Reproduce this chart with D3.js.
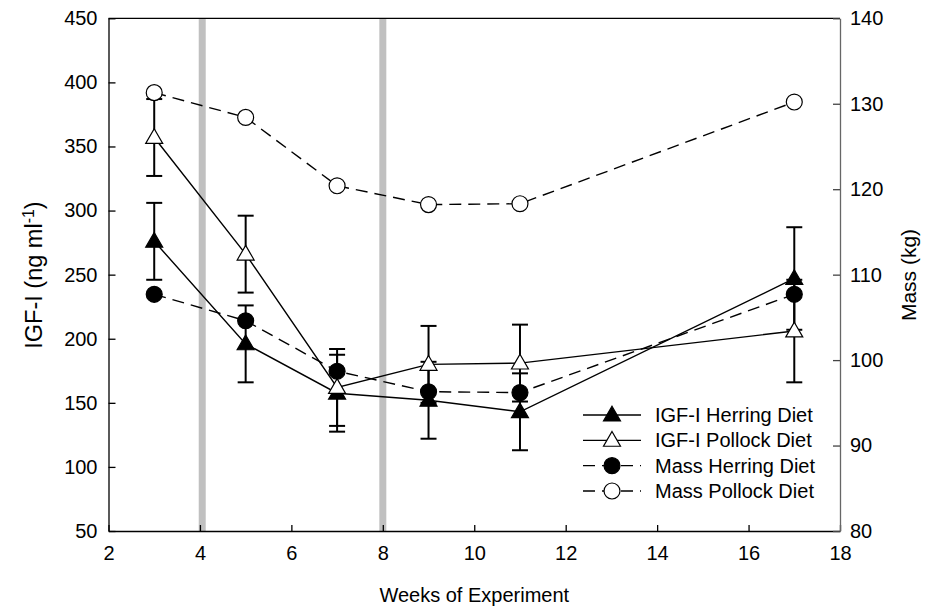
<!DOCTYPE html>
<html>
<head>
<meta charset="utf-8">
<script src="https://cdn.jsdelivr.net/npm/d3@7"></script>
<style>
  body { margin: 0; background: #fff; }
  text { font-family: "Liberation Sans", Arial, sans-serif; fill: #000; }
</style>
</head>
<body>
<div class="chart"></div>
<script>
// weeks sampled
const weeks = [3, 5, 7, 9, 11, 17]
// IGF-I (ng/ml), left axis
const igfHerring = [276, 196, 157.5, 152, 143, 247]
const igfHerringErr = [30, 30, 30, 30, 30, 40]
const igfPollock = [357, 266, 162, 180, 181, 206]
const igfPollockErr = [30, 30, 30, 30, 30, 40]
// body mass (kg), right axis
const massHerring = [107.7, 104.6, 98.7, 96.3, 96.2, 107.7]
const massPollock = [131.3, 128.4, 120.4, 118.2, 118.3, 130.2]
// diet switch markers
const switchWeeks = [4.05, 8]

const xTicks = [2, 4, 6, 8, 10, 12, 14, 16, 18]
const leftTicks = [50, 100, 150, 200, 250, 300, 350, 400, 450]
const rightTicks = [80, 90, 100, 110, 120, 130, 140]

const width = 930
const height = 608
const plotL = 108.5, plotR = 840, plotT = 18.3, plotB = 531

let svg = d3.select('.chart')
  .append('svg')
  .attr('width', width)
  .attr('height', height)

let x = d3.scaleLinear().domain([2, 18]).range([plotL, plotR])
let yL = d3.scaleLinear().domain([50, 450]).range([plotB, plotT])
let yR = d3.scaleLinear().domain([80, 140]).range([plotB, plotT])

// gray bands
svg.selectAll('.band')
  .data(switchWeeks)
  .enter().append('line')
  .attr('x1', d => x(d)).attr('x2', d => x(d))
  .attr('y1', plotT).attr('y2', plotB)
  .attr('stroke', '#c0c0c0')
  .attr('stroke-width', 7)

// frame: top line
svg.append('line')
  .attr('x1', plotL).attr('x2', plotR)
  .attr('y1', plotT).attr('y2', plotT)
  .attr('stroke', '#000').attr('stroke-width', 1.3)

// axes
let xAxis = svg.append('g')
  .attr('transform', 'translate(0,' + plotB + ')')
  .call(d3.axisBottom(x).tickValues(xTicks).tickSizeInner(-6).tickSizeOuter(0).tickPadding(15))
let lAxis = svg.append('g')
  .attr('transform', 'translate(' + plotL + ',0)')
  .call(d3.axisLeft(yL).tickValues(leftTicks).tickSizeInner(-7).tickSizeOuter(0).tickPadding(11))
let rAxis = svg.append('g')
  .attr('transform', 'translate(' + plotR + ',0)')
  .call(d3.axisRight(yR).tickValues(rightTicks).tickSizeInner(-7).tickSizeOuter(0).tickPadding(10))

;[xAxis, lAxis, rAxis].forEach(g => {
  g.attr('font-family', null).attr('font-size', null)
  g.selectAll('text').style('font-size', '20px')
  g.selectAll('line').attr('stroke-width', 1.3)
  g.select('.domain').attr('stroke-width', 1.3)
})
rAxis.select('.domain').attr('stroke', '#666')
rAxis.selectAll('line').attr('stroke', '#444')

// axis titles
svg.append('text')
  .attr('x', (plotL + plotR) / 2)
  .attr('y', 602)
  .attr('text-anchor', 'middle')
  .style('font-size', '20px')
  .text('Weeks of Experiment')

let lt = svg.append('text')
  .attr('transform', 'translate(42,275) rotate(-90)')
  .attr('text-anchor', 'middle')
  .style('font-size', '23.5px')
lt.append('tspan').text('IGF-I (ng  ml')
lt.append('tspan').text('-1').attr('baseline-shift', 'super').style('font-size', '16px')
lt.append('tspan').text(')')

svg.append('text')
  .attr('transform', 'translate(916,275) rotate(-90)')
  .attr('text-anchor', 'middle')
  .style('font-size', '21px')
  .text('Mass (kg)')

// series
let series = [
  { name: 'IGF-I Herring Diet', vals: igfHerring, err: igfHerringErr, y: yL, shape: d3.symbolTriangle, fill: '#000', dash: null },
  { name: 'IGF-I Pollock Diet', vals: igfPollock, err: igfPollockErr, y: yL, shape: d3.symbolTriangle, fill: '#fff', dash: null },
  { name: 'Mass Herring Diet', vals: massHerring, err: null, y: yR, shape: d3.symbolCircle, fill: '#000', dash: '12,7' },
  { name: 'Mass Pollock Diet', vals: massPollock, err: null, y: yR, shape: d3.symbolCircle, fill: '#fff', dash: '12,7' }
]

let line = (s) => d3.line()
  .x((d, i) => x(weeks[i]))
  .y(d => s.y(d))

series.forEach(s => {
  svg.append('path')
    .datum(s.vals)
    .attr('d', line(s))
    .attr('fill', 'none')
    .attr('stroke', '#000')
    .attr('stroke-width', 1.4)
    .attr('stroke-dasharray', s.dash)
})

// error bars
series.filter(s => s.err).forEach(s => {
  let g = svg.append('g')
  s.vals.forEach((v, i) => {
    let cx = x(weeks[i])
    let y1 = s.y(v - s.err[i]), y2 = s.y(v + s.err[i])
    g.append('line').attr('x1', cx).attr('x2', cx).attr('y1', y1).attr('y2', y2)
      .attr('stroke', '#000').attr('stroke-width', 2)
    ;[y1, y2].forEach(yy => {
      g.append('line').attr('x1', cx - 8).attr('x2', cx + 8).attr('y1', yy).attr('y2', yy)
        .attr('stroke', '#000').attr('stroke-width', 2)
    })
  })
})

let symSize = (shape) => shape === d3.symbolCircle ? 200 : 125

// markers
series.forEach(s => {
  svg.append('g').selectAll('path')
    .data(s.vals)
    .enter().append('path')
    .attr('transform', (d, i) => 'translate(' + x(weeks[i]) + ',' + s.y(d) + ')' + (s.shape === d3.symbolTriangle ? ' translate(0,1)' : ''))
    .attr('d', d3.symbol().type(s.shape).size(symSize(s.shape)))
    .attr('fill', s.fill)
    .attr('stroke', '#000')
    .attr('stroke-width', 1.2)
})

// legend
let legendY = d3.scalePoint().domain(series.map(s => s.name)).range([415, 491])
let legend = svg.selectAll('.legend')
  .data(series)
  .enter().append('g')
  .attr('transform', d => 'translate(0,' + legendY(d.name) + ')')

legend.append('line')
  .attr('x1', 583).attr('x2', 641)
  .attr('stroke', '#000').attr('stroke-width', 1.4)
  .attr('stroke-dasharray', d => d.dash)
legend.append('path')
  .attr('transform', d => 'translate(612,' + (d.shape === d3.symbolTriangle ? 1 : 0) + ')')
  .attr('d', d => d3.symbol().type(d.shape).size(symSize(d.shape))())
  .attr('fill', d => d.fill)
  .attr('stroke', '#000')
  .attr('stroke-width', 1.2)
legend.append('text')
  .attr('x', 655)
  .attr('dy', '0.35em')
  .style('font-size', '20px')
  .text(d => d.name)
</script>
</body>
</html>
